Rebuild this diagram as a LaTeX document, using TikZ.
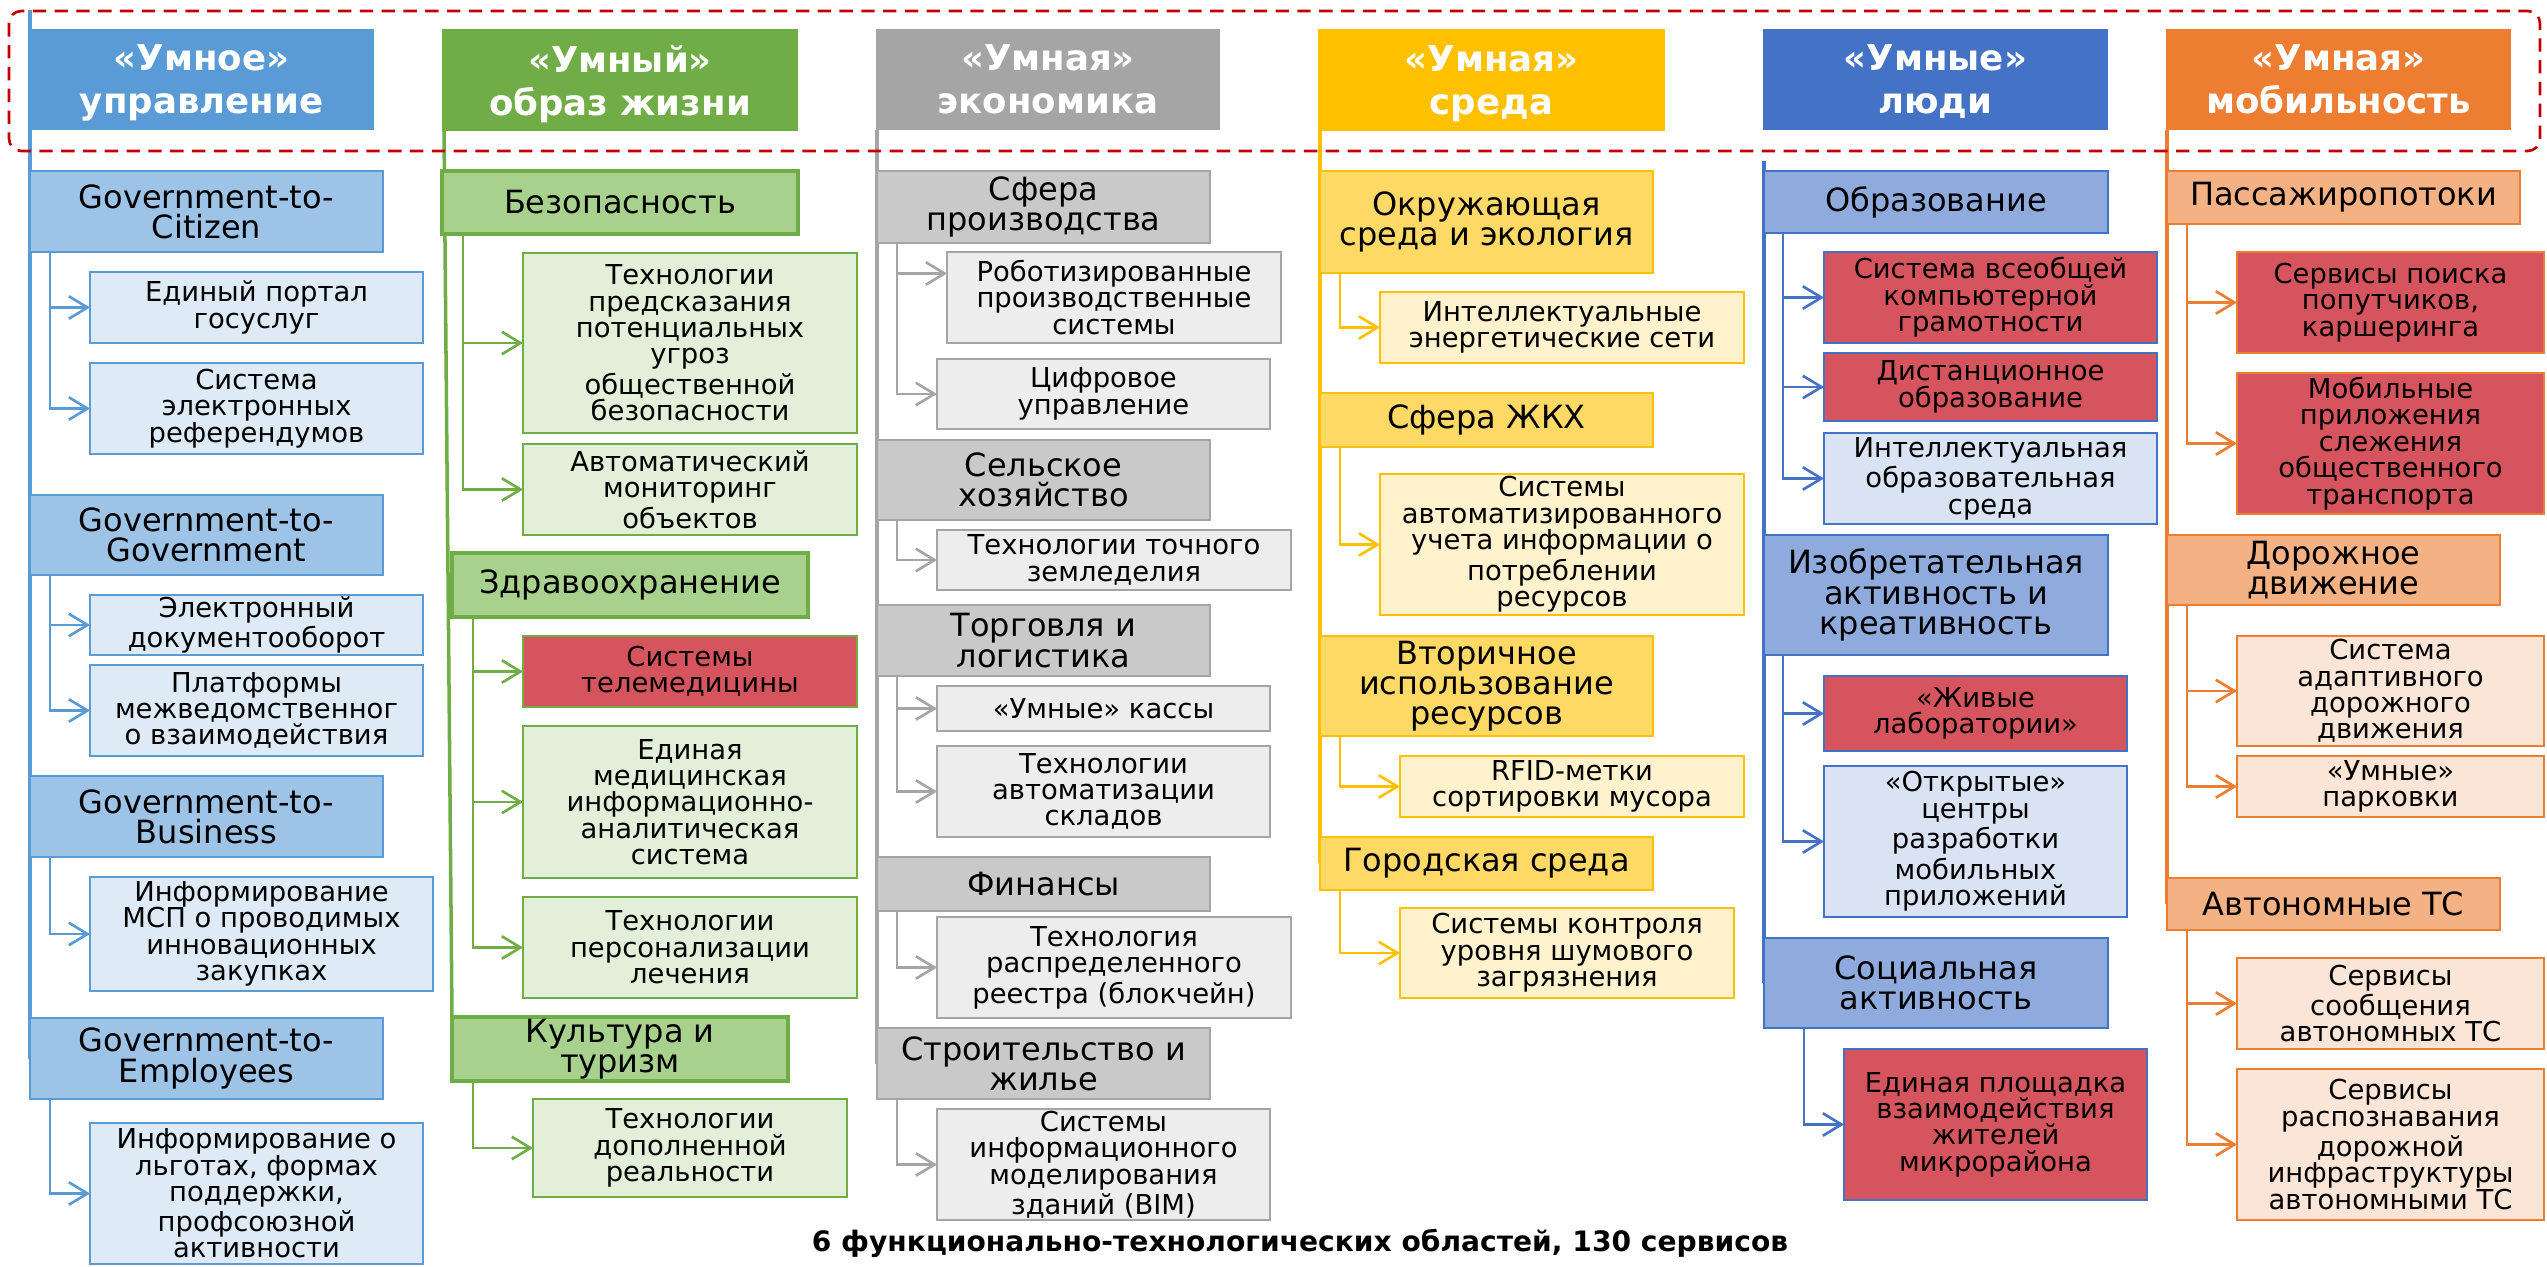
\documentclass[tikz,border=0pt]{standalone}
\usepackage{fontspec}
\setmainfont{DejaVu Sans}
\usetikzlibrary{arrows.meta}
\definecolor{c1}{HTML}{5B9BD5}\definecolor{c1m}{HTML}{9DC3E6}\definecolor{c1l}{HTML}{DEEBF7}
\definecolor{c2}{HTML}{70AD47}\definecolor{c2m}{HTML}{A9D18E}\definecolor{c2l}{HTML}{E2F0D9}
\definecolor{c3}{HTML}{A5A5A5}\definecolor{c3m}{HTML}{C9C9C9}\definecolor{c3l}{HTML}{EDEDED}
\definecolor{c4}{HTML}{FFC000}\definecolor{c4m}{HTML}{FFD966}\definecolor{c4l}{HTML}{FFF2CC}
\definecolor{c5}{HTML}{4472C4}\definecolor{c5m}{HTML}{8FAADC}\definecolor{c5l}{HTML}{DAE3F3}
\definecolor{c6}{HTML}{ED7D31}\definecolor{c6m}{HTML}{F4B183}\definecolor{c6l}{HTML}{FBE5D6}
\definecolor{redf}{HTML}{D6545E}
\definecolor{dashred}{HTML}{C00000}
\pgfdeclarelayer{bg}\pgfsetlayers{bg,main}
\newcommand\mybox[7]{\node[#1, minimum width={(#5-#3)*0.01cm}, minimum height={(#6-#4)*0.01cm}] (#2) at ({(#3+#5)/2},{(#4+#6)/2}) {#7};}
\tikzset{
 every node/.style={inner sep=0pt, outer sep=0pt, align=center, text=black},
 hdr/.style={fill=#1, text=white, text depth=0pt, font=\fontsize{10.1}{12.2}\selectfont\bfseries},
 cat/.style 2 args={draw=#1, fill=#2, line width=0.75pt, font=\fontsize{9.1}{8.6}\selectfont},
 catt/.style 2 args={draw=#1, fill=#2, line width=1.4pt, font=\fontsize{9.1}{8.6}\selectfont},
 sub/.style 2 args={draw=#1, fill=#2, line width=0.75pt, font=\fontsize{7.8}{7.5}\selectfont},
 cn/.style={draw=#1, line width=0.75pt, -{Straight Barb[length=5.3pt,width=6.4pt]}},
 trunk/.style={draw=#1, line width=1pt},
 focus/.style={draw=dashred, line width=0.75pt, dash pattern=on 3.8pt off 2.4pt, rounded corners=3.5pt},
}
\begin{document}
\begin{tikzpicture}[x=0.01cm,y=-0.01cm]
\useasboundingbox (0,0) rectangle (2547,1267);
% column 1
\mybox{hdr=c1}{h1}{29}{29}{374}{130}{«Умное»\\управление}
\mybox{cat={c1}{c1m}}{g2c}{30}{171}{383}{252}{Government-to-\\Citizen}
\mybox{sub={c1}{c1l}}{s11}{90}{272}{423}{343}{Единый портал\\госуслуг}
\mybox{sub={c1}{c1l}}{s12}{90}{363}{423}{454}{Система\\электронных\\референдумов}
\mybox{cat={c1}{c1m}}{g2g}{30}{495}{383}{575}{Government-to-\\Government}
\mybox{sub={c1}{c1l}}{s13}{90}{595}{423}{655}{Электронный\\документооборот}
\mybox{sub={c1}{c1l}}{s14}{90}{665}{423}{756}{Платформы\\межведомственног\\о взаимодействия}
\mybox{cat={c1}{c1m}}{g2b}{30}{776}{383}{857}{Government-to-\\Business}
\mybox{sub={c1}{c1l}}{s15}{90}{877}{433}{991}{Информирование\\МСП о проводимых\\инновационных\\закупках}
\mybox{cat={c1}{c1m}}{g2e}{30}{1018}{383}{1099}{Government-to-\\Employees}
\mybox{sub={c1}{c1l}}{s16}{90}{1123}{423}{1264}{Информирование о\\льготах, формах\\поддержки,\\профсоюзной\\активности}
% column 2
\mybox{hdr=c2}{h2}{442}{29}{798}{131}{«Умный»\\образ жизни}
\mybox{catt={c2}{c2m}}{bez}{442}{171}{798}{234}{Безопасность}
\mybox{sub={c2}{c2l}}{s21}{523}{253}{857}{433}{Технологии\\предсказания\\потенциальных\\угроз\\общественной\\безопасности}
\mybox{sub={c2}{c2l}}{s22}{523}{444}{857}{535}{Автоматический\\мониторинг\\объектов}
\mybox{catt={c2}{c2m}}{zdr}{452}{553}{808}{617}{Здравоохранение}
\mybox{sub={c2}{redf}}{s23}{523}{636}{857}{707}{Системы\\телемедицины}
\mybox{sub={c2}{c2l}}{s24}{523}{726}{857}{878}{Единая\\медицинская\\информационно-\\аналитическая\\система}
\mybox{sub={c2}{c2l}}{s25}{523}{897}{857}{998}{Технологии\\персонализации\\лечения}
\mybox{catt={c2}{c2m}}{kul}{452}{1017}{788}{1081}{Культура и\\туризм}
\mybox{sub={c2}{c2l}}{s26}{533}{1099}{847}{1197}{Технологии\\дополненной\\реальности}
% column 3
\mybox{hdr=c3}{h3}{876}{29}{1220}{130}{«Умная»\\экономика}
\mybox{cat={c3}{c3m}}{sfp}{877}{171}{1210}{243}{Сфера\\производства}
\mybox{sub={c3}{c3l}}{s31}{947}{252}{1281}{343}{Роботизированные\\производственные\\системы}
\mybox{sub={c3}{c3l}}{s32}{937}{359}{1270}{429}{Цифровое\\управление}
\mybox{cat={c3}{c3m}}{sel}{877}{440}{1210}{520}{Сельское\\хозяйство}
\mybox{sub={c3}{c3l}}{s33}{937}{530}{1291}{590}{Технологии точного\\земледелия}
\mybox{cat={c3}{c3m}}{tor}{877}{605}{1210}{676}{Торговля и\\логистика}
\mybox{sub={c3}{c3l}}{s34}{937}{686}{1270}{731}{«Умные» кассы}
\mybox{sub={c3}{c3l}}{s35}{937}{746}{1270}{837}{Технологии\\автоматизации\\складов}
\mybox{cat={c3}{c3m}}{fin}{877}{857}{1210}{911}{Финансы}
\mybox{sub={c3}{c3l}}{s36}{937}{917}{1291}{1018}{Технология\\распределенного\\реестра (блокчейн)}
\mybox{cat={c3}{c3m}}{str}{877}{1028}{1210}{1099}{Строительство и\\жилье}
\mybox{sub={c3}{c3l}}{s37}{937}{1109}{1270}{1220}{Системы\\информационного\\моделирования\\зданий (BIM)}
% column 4
\mybox{hdr=c4}{h4}{1318}{29}{1665}{131}{«Умная»\\среда}
\mybox{cat={c4}{c4m}}{okr}{1320}{171}{1653}{273}{Окружающая\\среда и экология}
\mybox{sub={c4}{c4l}}{s41}{1380}{292}{1744}{363}{Интеллектуальные\\энергетические сети}
\mybox{cat={c4}{c4m}}{zkh}{1320}{393}{1653}{447}{Сфера ЖКХ}
\mybox{sub={c4}{c4l}}{s42}{1380}{474}{1744}{615}{Системы\\автоматизированного\\учета информации о\\потреблении\\ресурсов}
\mybox{cat={c4}{c4m}}{vto}{1320}{636}{1653}{736}{Вторичное\\использование\\ресурсов}
\mybox{sub={c4}{c4l}}{s43}{1400}{756}{1744}{817}{RFID-метки\\сортировки мусора}
\mybox{cat={c4}{c4m}}{gor}{1320}{837}{1653}{890}{Городская среда}
\mybox{sub={c4}{c4l}}{s44}{1400}{908}{1734}{998}{Системы контроля\\уровня шумового\\загрязнения}
% column 5
\mybox{hdr=c5}{h5}{1763}{29}{2108}{130}{«Умные»\\люди}
\mybox{cat={c5}{c5m}}{obr}{1764}{171}{2108}{233}{Образование}
\mybox{sub={c5}{redf}}{s51}{1824}{252}{2157}{343}{Система всеобщей\\компьютерной\\грамотности}
\mybox{sub={c5}{redf}}{s52}{1824}{353}{2157}{421}{Дистанционное\\образование}
\mybox{sub={c5}{c5l}}{s53}{1824}{433}{2157}{524}{Интеллектуальная\\образовательная\\среда}
\mybox{cat={c5}{c5m}}{izo}{1764}{535}{2108}{655}{Изобретательная\\активность и\\креативность}
\mybox{sub={c5}{redf}}{s54}{1824}{676}{2127}{751}{«Живые\\лаборатории»}
\mybox{sub={c5}{c5l}}{s55}{1824}{766}{2127}{917}{«Открытые»\\центры\\разработки\\мобильных\\приложений}
\mybox{cat={c5}{c5m}}{soc}{1764}{938}{2108}{1028}{Социальная\\активность}
\mybox{sub={c5}{redf}}{s56}{1844}{1049}{2147}{1200}{Единая площадка\\взаимодействия\\жителей\\микрорайона}
% column 6
\mybox{hdr=c6}{h6}{2166}{29}{2511}{130}{«Умная»\\мобильность}
\mybox{cat={c6}{c6m}}{pas}{2167}{171}{2520}{224}{Пассажиропотоки}
\mybox{sub={c6}{redf}}{s61}{2237}{252}{2544}{353}{Сервисы поиска\\попутчиков,\\каршеринга}
\mybox{sub={c6}{redf}}{s62}{2237}{373}{2544}{514}{Мобильные\\приложения\\слежения\\общественного\\транспорта}
\mybox{cat={c6}{c6m}}{dor}{2167}{535}{2500}{605}{Дорожное\\движение}
\mybox{sub={c6}{c6l}}{s63}{2237}{636}{2544}{746}{Система\\адаптивного\\дорожного\\движения}
\mybox{sub={c6}{c6l}}{s64}{2237}{756}{2544}{817}{«Умные»\\парковки}
\mybox{cat={c6}{c6m}}{avt}{2167}{878}{2500}{930}{Автономные ТС}
\mybox{sub={c6}{c6l}}{s65}{2237}{958}{2544}{1049}{Сервисы\\сообщения\\автономных ТС}
\mybox{sub={c6}{c6l}}{s66}{2237}{1069}{2544}{1220}{Сервисы\\распознавания\\дорожной\\инфраструктуры\\автономными ТС}
% caption
\node[font=\fontsize{8}{9.6}\selectfont\bfseries] (cap) at (1300,1243) {6 функционально-технологических областей, 130 сервисов};
% trunks
\coordinate (t1) at (30,10);
\coordinate (t2) at (444,131);
\coordinate (t3) at (877,130);
\coordinate (t4) at (1320,131);
\coordinate (t5) at (1764,161);
\coordinate (t6) at (2167,130);
\begin{pgfonlayer}{bg}
\draw[trunk=c1] (t1) -- (g2e.west);
\draw[trunk=c2] (t2) -- (kul.north west);
\draw[trunk=c3] (t3) -- (str.west);
\draw[trunk=c4] (t4) -- (gor.west);
\draw[trunk=c5] (t5) -- (soc.west);
\draw[trunk=c6] (t6) -- (avt.west);
\end{pgfonlayer}
% connectors
\foreach \p/\c in {g2c/s11,g2c/s12,g2g/s13,g2g/s14,g2b/s15,g2e/s16}
  \draw[cn=c1] ([xshift=0.2cm]\p.south west) |- (\c.west);
\foreach \p/\c in {bez/s21,bez/s22,zdr/s23,zdr/s24,zdr/s25,kul/s26}
  \draw[cn=c2] ([xshift=0.21cm]\p.south west) |- (\c.west);
\draw[cn=c3] ([xshift=0.2cm]sfp.south west) |- ([yshift=0.24cm]s31.west);
\foreach \p/\c in {sfp/s32,sel/s33,tor/s34,tor/s35,fin/s36,str/s37}
  \draw[cn=c3] ([xshift=0.2cm]\p.south west) |- (\c.west);
\foreach \p/\c in {okr/s41,zkh/s42,vto/s43,gor/s44}
  \draw[cn=c4] ([xshift=0.2cm]\p.south west) |- (\c.west);
\foreach \p/\c in {obr/s51,obr/s52,obr/s53,izo/s54,izo/s55}
  \draw[cn=c5] ([xshift=0.19cm]\p.south west) |- (\c.west);
\draw[cn=c5] ([xshift=0.4cm]soc.south west) |- (s56.west);
\foreach \p/\c in {pas/s61,pas/s62,dor/s63,dor/s64,avt/s65,avt/s66}
  \draw[cn=c6] ([xshift=0.2cm]\p.south west) |- (\c.west);
% focus frame
\draw[focus] (9,11) rectangle (2540,151);
\end{tikzpicture}
\end{document}
